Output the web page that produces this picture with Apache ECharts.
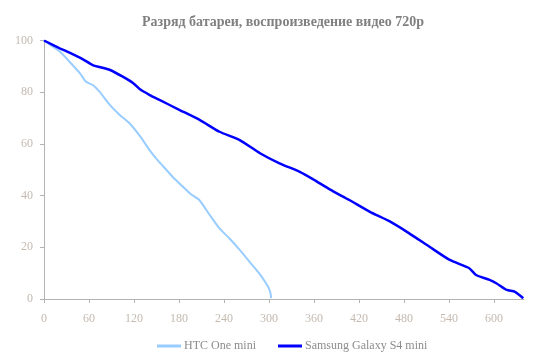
<!DOCTYPE html>
<html><head><meta charset="utf-8">
<script src="https://cdn.jsdelivr.net/npm/echarts@6/dist/echarts.min.js"></script>
<style>html,body{margin:0;padding:0;background:#fff}#c{width:550px;height:356px}</style>
</head><body><div id="c"></div>
<script>
const titleText = 'Разряд батареи, воспроизведение видео 720р';
const seriesNames = ['HTC One mini', 'Samsung Galaxy S4 mini'];
const xTicks = [0, 60, 120, 180, 240, 300, 360, 420, 480, 540, 600];
const yTicks = [0, 20, 40, 60, 80, 100];
const htcTime = [0, 10, 21, 34, 48, 56, 65, 74, 88, 101, 114, 128, 141, 152, 163, 174, 185, 196, 207, 221, 234, 247, 261, 274, 287, 296, 300, 302, 303];
const htcLevel = [100, 98, 95.7, 91.8, 87.3, 84, 82.8, 80.2, 75, 71.2, 68, 63, 57.5, 53.5, 50, 46.5, 43.5, 40.5, 38.3, 32.5, 27.3, 23.5, 19, 14.4, 9.9, 6.1, 4, 2.2, 0.3];
const samTime = [0, 21, 34, 52, 65, 88, 105, 119, 128, 141, 154, 181, 208, 234, 261, 288, 314, 341, 359, 381, 407, 434, 461, 487, 514, 541, 567, 576, 594, 603, 617, 628, 639];
const samLevel = [100, 97, 95.3, 92.7, 90.5, 88.6, 86, 83.5, 81.1, 78.9, 77, 73.1, 69.2, 64.7, 61.5, 56.4, 52.5, 49.2, 46.3, 42.4, 38.3, 33.8, 30, 25.4, 20.2, 15.1, 11.9, 9.3, 7.4, 6.1, 3.5, 2.8, 0.3];

const pair = (a, b) => a.map((v, i) => [v, b[i]]);
const labelColor = '#c4bab0';
const axisColor = '#b3b3b3';
const font = 'Liberation Serif';
const chart = echarts.init(document.getElementById('c'));
chart.setOption({
  animation: false,
  title: { text: titleText, left: 278, textAlign: 'center', top: 10,
    textStyle: { fontFamily: font, fontWeight: 'bold', fontSize: 14, color: '#808080' } },
  grid: { left: 44, top: 40.5, width: 480, height: 258.5 },
  legend: { top: 335, left: 152, itemWidth: 24, itemHeight: 3, itemGap: 22,
    icon: 'rect',
    textStyle: { fontFamily: font, fontSize: 12, color: '#8c8c8c', padding: [0, 0, 0, -2] },
    data: seriesNames },
  xAxis: { type: 'value', min: 0, max: 640,
    axisLine: { lineStyle: { color: axisColor } },
    axisTick: { show: true, length: 4, lineStyle: { color: axisColor }, customValues: xTicks },
    axisLabel: { fontFamily: font, fontSize: 12, color: labelColor, margin: 14, customValues: xTicks },
    splitLine: { show: false } },
  yAxis: { type: 'value', min: 0, max: 100, interval: 20,
    axisLine: { show: true, lineStyle: { color: axisColor } },
    axisTick: { show: true, length: 4, lineStyle: { color: axisColor } },
    axisLabel: { fontFamily: font, fontSize: 12, color: labelColor, margin: 11 },
    splitLine: { show: false } },
  series: [
    { name: seriesNames[0], type: 'line', data: pair(htcTime, htcLevel), showSymbol: false,
      smooth: 0.2, lineStyle: { color: '#99ccff', width: 2 }, itemStyle: { color: '#99ccff' } },
    { name: seriesNames[1], type: 'line', data: pair(samTime, samLevel), showSymbol: false,
      smooth: 0.2, lineStyle: { color: '#0000ff', width: 2.5 }, itemStyle: { color: '#0000ff' } }
  ]
});
</script></body></html>
